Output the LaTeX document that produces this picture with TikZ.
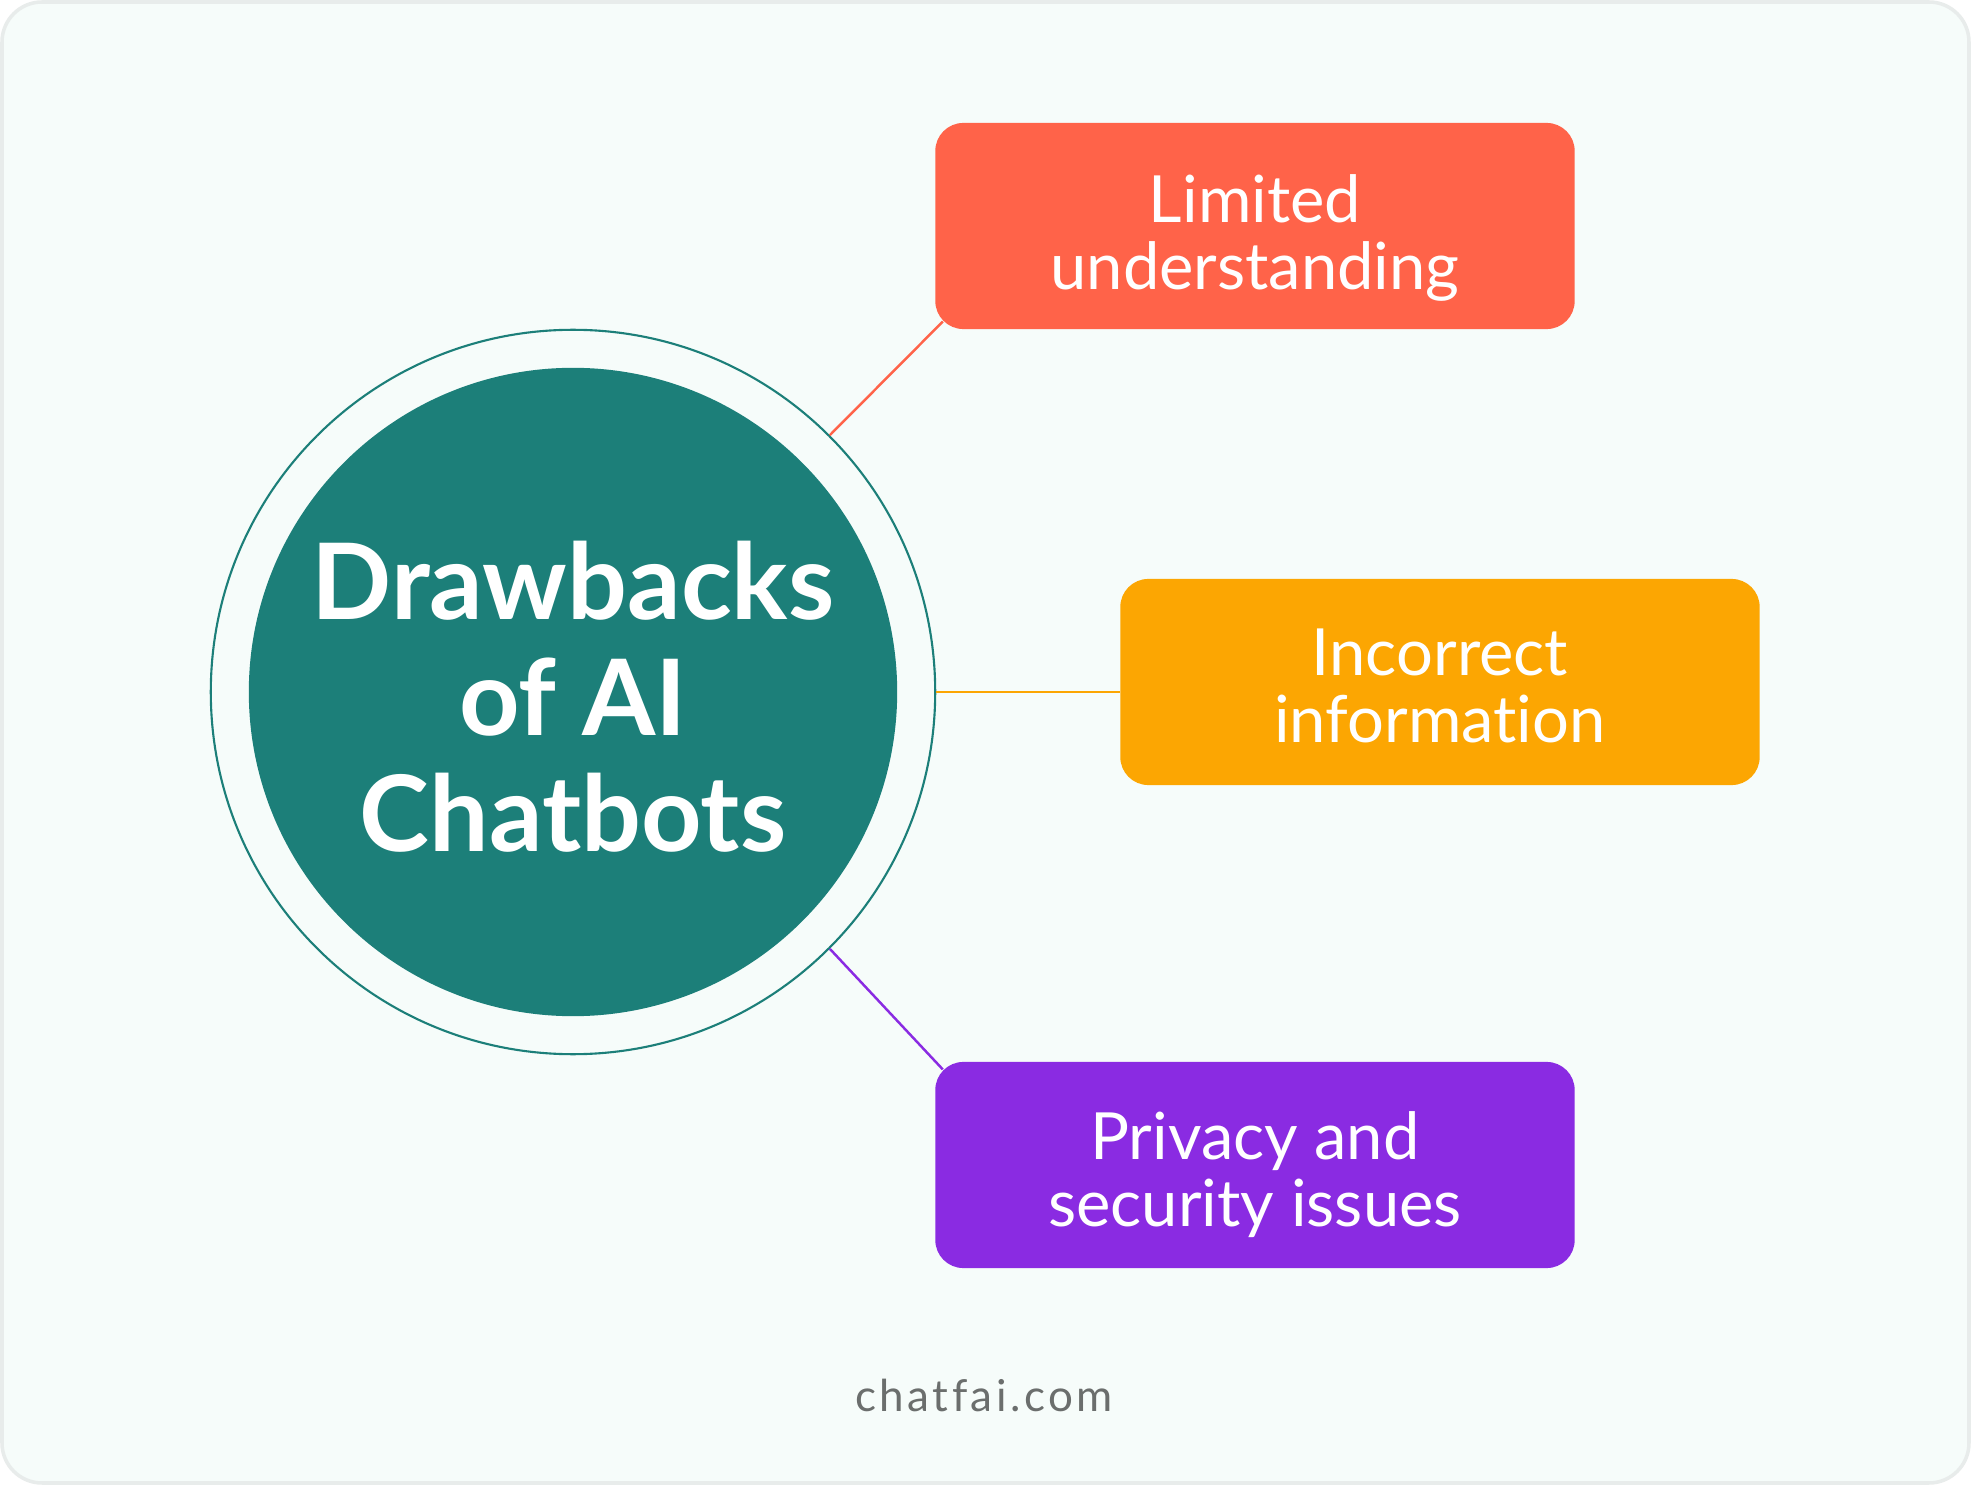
\documentclass[tikz,border=0pt]{standalone}
\usepackage{fontspec}
\setmainfont{Lato}[Ligatures=NoCommon]
\newfontfamily\sitefont[LetterSpace=8, Ligatures=NoCommon]{Lato}
\usetikzlibrary{calc, positioning}
\definecolor{bgmint}{HTML}{F6FCFA}
\definecolor{framegray}{HTML}{E8ECEB}
\definecolor{tealc}{HTML}{1C7F79}
\definecolor{tomato}{HTML}{FF6349}
\definecolor{amber}{HTML}{FCA602}
\definecolor{violetc}{HTML}{8A2BE2}
\definecolor{sitegray}{HTML}{6B6E6D}

\begin{document}
\begin{tikzpicture}[x=0.01cm, y=-0.01cm,
  ring/.style={circle, draw=tealc, line width=0.6pt, minimum size=7.24cm, inner sep=0pt},
  core/.style={circle, fill=tealc, minimum size=6.48cm, inner sep=0pt},
  issue/.style={rounded corners=0.28cm, minimum width=6.39cm, minimum height=2.06cm,
    text=white, align=center, text depth=0pt, font=\fontsize{18.5}{19}\selectfont},
  issuetext/.style={text=white, align=center, font=\fontsize{18.5}{19}\selectfont},
  link/.style={line width=0.7pt}]
\useasboundingbox (0,0) rectangle (1971,1485);
\fill[white] (0,0) rectangle (1971,1485);
\draw[framegray, fill=bgmint, line width=1pt, rounded corners=0.4cm] (2,2) rectangle (1969,1483);

% centre
\node[ring] (ring) at (573,692) {};
\node[core] (core) at (573,692) {};
\node[text=white, align=center, font=\bfseries\fontsize{30}{33}\selectfont] (title) at (573,697) {Drawbacks\\of AI\\Chatbots};

% drawbacks
\node[issue, fill=tomato] (limit) at (1255,226) {};
\node[issue, fill=amber] (wrong) at (1440,682) {};
\node[issue, fill=violetc] (privacy) at (1255,1165) {};
\node[issuetext, text depth=0pt] (limittext) at (1255,232) {Limited\\understanding};
\node[issuetext, text depth=0pt] (wrongtext) at (1440,686) {Incorrect\\information};
\node[issuetext, text depth=0pt] (privacytext) at (1255,1169) {Privacy and\\security issues};

\coordinate (limitend) at ($(limit.south west)+(8.2,-8.2)$);
\coordinate (privacyend) at ($(privacy.north west)+(8.2,8.2)$);
\draw[link, tomato] (ring.45) -- (limitend);
\draw[link, amber] (ring.east) -- (ring.east -| wrong.west);
\draw[link, violetc] (ring.-45) -- (privacyend);

\node[text=sitegray, font=\sitefont\fontsize{12.5}{15}\selectfont] (site) at (984,1395) {chatfai.com};
\end{tikzpicture}
\end{document}
